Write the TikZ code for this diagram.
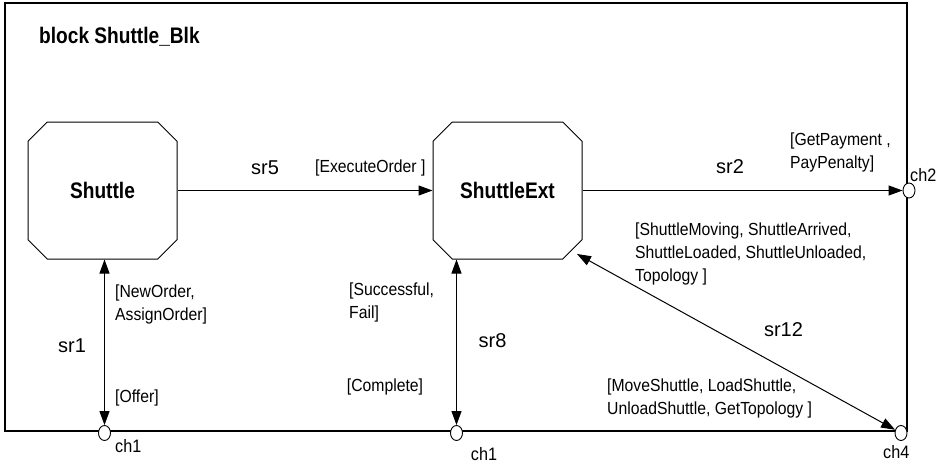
\documentclass[tikz,border=0pt]{standalone}
\usepackage{fontspec}
\setmainfont{Liberation Sans}[FakeStretch=0.9]
\newfontfamily\blkfont{Liberation Sans}[FakeStretch=0.85]
\newfontfamily\lblfont{Liberation Sans}
\usetikzlibrary{shapes.misc,shapes.geometric,arrows.meta,calc}

\begin{document}
\begin{tikzpicture}[x=1pt,y=-1pt,
  frame/.style={line width=1.2pt},
  blk/.style={draw, line width=1pt, chamfered rectangle,
    chamfered rectangle xsep=11pt, chamfered rectangle ysep=11pt,
    minimum width=149pt, minimum height=137pt, inner sep=0pt,
    font=\blkfont\bfseries\fontsize{22.5}{27}\selectfont},
  port/.style={draw, fill=white, ellipse, line width=0.9pt,
    minimum width=12pt, minimum height=15pt, inner sep=0pt},
  chan/.style={line width=1pt, -{Triangle[length=14pt,width=10pt]}},
  bichan/.style={line width=1pt,
    {Triangle[length=14pt,width=10pt]}-{Triangle[length=14pt,width=10pt]}},
  sig/.style={anchor=base west, inner sep=0pt,
    font=\fontsize{17.5}{23}\selectfont},
  route/.style={anchor=base, inner sep=0pt,
    font=\lblfont\fontsize{20}{24}\selectfont},
  chname/.style={anchor=base west, inner sep=0pt,
    font=\fontsize{18}{22}\selectfont},
]
\useasboundingbox (0,0) rectangle (946,466);

% block frame
\draw[frame] (5,3) rectangle (907,431);
\node[anchor=base west, inner sep=0pt,
      font=\blkfont\bfseries\fontsize{22.5}{27}\selectfont]
  (title) at (39,43) {block Shuttle\_Blk};

% processes
\node[blk] (Shuttle) at (102.5,190.5) {Shuttle};
\node[blk] (ShuttleExt) at (507.5,190.5) {ShuttleExt};

% gates on the frame
\node[port] (ch1a) at (104.5,433) {};
\node[port] (ch1b) at (456.5,433) {};
\node[port] (ch2) at (909,190.5) {};
\node[port] (ch4) at (901,433) {};

\coordinate (sr12end) at ($(ShuttleExt.south -| ShuttleExt.east)+(-5.5,-5.5)$);

% signal routes
\draw[chan] (Shuttle.east) -- (ShuttleExt.west);
\draw[chan] (ShuttleExt.east) -- (ch2);
\draw[bichan] (ch1a) -- (ch1a |- Shuttle.south);
\draw[bichan] (ch1b) -- (ch1b |- ShuttleExt.south);
\draw[bichan] (ch4) -- (sr12end);

% route names
\node[route] (l5) at (265,174) {sr5};
\node[route] (l2) at (730,173) {sr2};
\node[route] (l1) at (72,352.7) {sr1};
\node[route] (l8) at (492.5,347) {sr8};
\node[route] (l12) at (783.5,336.7) {sr12};

% signal lists
\node[sig] (s5) at (315,172.7) {[ExecuteOrder ]};
\node[sig] (s2) at (790,145)
  {\begin{tabular}[t]{@{}l@{}}[GetPayment ,\\PayPenalty]\end{tabular}};
\node[sig] (s12a) at (635,235)
  {\begin{tabular}[t]{@{}l@{}}[ShuttleMoving, ShuttleArrived,\\ShuttleLoaded, ShuttleUnloaded,\\Topology ]\end{tabular}};
\node[sig] (s12b) at (607,391.7)
  {\begin{tabular}[t]{@{}l@{}}[MoveShuttle, LoadShuttle,\\UnloadShuttle, GetTopology ]\end{tabular}};
\node[sig] (s1a) at (115,297.7)
  {\begin{tabular}[t]{@{}l@{}}[NewOrder,\\AssignOrder]\end{tabular}};
\node[sig] (s1b) at (115,402.7) {[Offer]};
\node[sig] (s8a) at (349,295)
  {\begin{tabular}[t]{@{}l@{}}[Successful,\\Fail]\end{tabular}};
\node[sig] (s8b) at (346.7,391.7) {[Complete]};

% gate names
\node[chname] (n1a) at (115,452.7) {ch1};
\node[chname] (n1b) at (470.7,460) {ch1};
\node[chname] (n2) at (910,181.7) {ch2};
\node[chname] (n4) at (883,458) {ch4};
\end{tikzpicture}
\end{document}
